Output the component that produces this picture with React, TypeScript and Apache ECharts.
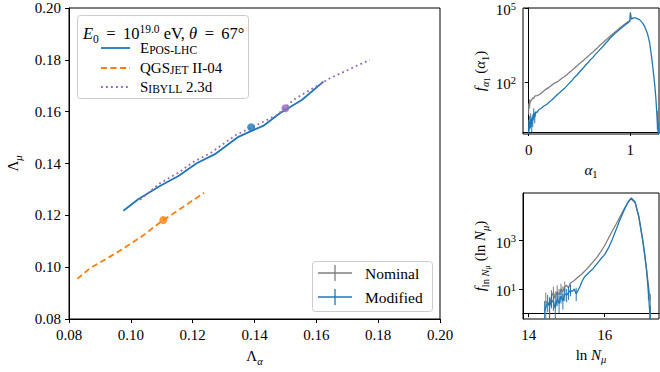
import React, { useEffect, useRef } from 'react';
import * as echarts from 'echarts';

// ---------- main panel data ----------
const eposX = [0.0976, 0.1024, 0.1094, 0.1154, 0.1213, 0.1272, 0.1348, 0.1385, 0.1428, 0.1482, 0.1553, 0.1623];
const eposY = [0.1218, 0.1262, 0.1313, 0.1352, 0.1401, 0.1436, 0.1503, 0.1523, 0.1545, 0.1594, 0.1645, 0.1716];
const qgsX = [0.0827, 0.0868, 0.096, 0.1035, 0.1105, 0.117, 0.1237];
const qgsY = [0.0955, 0.0996, 0.106, 0.1118, 0.1182, 0.1233, 0.1287];
const sibX = [0.103, 0.1094, 0.115, 0.1205, 0.1256, 0.134, 0.1418, 0.1472, 0.150, 0.1525, 0.1644, 0.1773];
const sibY = [0.126, 0.1324, 0.1362, 0.1408, 0.1439, 0.151, 0.1555, 0.1587, 0.1615, 0.1645, 0.1729, 0.180];
const markEpos = [0.1389, 0.154];
const markQgs = [0.1105, 0.1182];
const markSib = [0.150, 0.1613];
const mainTicks = [0.08, 0.10, 0.12, 0.14, 0.16, 0.18, 0.20];

// ---------- alpha_1 histogram (log10 f) ----------
const a1NomX = [0.0, 0.01, 0.02, 0.03, 0.04, 0.05, 0.06, 0.08, 0.10, 0.12, 0.15, 0.18, 0.20, 0.23, 0.25, 0.28, 0.30, 0.33, 0.35, 0.38, 0.40, 0.43, 0.45, 0.48, 0.50, 0.53, 0.55, 0.58, 0.60, 0.63, 0.65, 0.68, 0.70, 0.73, 0.75, 0.78, 0.80, 0.83, 0.85, 0.88, 0.90, 0.93, 0.95, 0.98, 1.00];
const a1NomLog = [0.95, 1.15, 1.25, 1.3, 1.38, 1.35, 1.45, 1.47, 1.5, 1.55, 1.66, 1.75, 1.8, 1.9, 1.96, 2.02, 2.08, 2.18, 2.23, 2.33, 2.4, 2.5, 2.57, 2.68, 2.76, 2.85, 2.93, 3.03, 3.12, 3.22, 3.3, 3.41, 3.5, 3.6, 3.68, 3.78, 3.86, 3.96, 4.03, 4.13, 4.2, 4.3, 4.36, 4.45, 4.5];
const a1ModX = [0.0, 0.01, 0.015, 0.02, 0.03, 0.035, 0.04, 0.05, 0.06, 0.07, 0.08, 0.10, 0.12, 0.15, 0.18, 0.20, 0.23, 0.25, 0.28, 0.30, 0.33, 0.35, 0.38, 0.40, 0.43, 0.45, 0.48, 0.50, 0.53, 0.55, 0.58, 0.60, 0.63, 0.65, 0.68, 0.70, 0.73, 0.75, 0.78, 0.80, 0.83, 0.85, 0.88, 0.90, 0.93, 0.95, 0.98, 0.995, 1.0, 1.01, 1.03, 1.05, 1.07, 1.09, 1.12, 1.14, 1.17, 1.19, 1.21, 1.22, 1.24, 1.25, 1.265, 1.275];
const a1ModLog = [0.0, 0.4, 0.15, 0.5, 0.3, 0.6, 0.45, 0.75, 0.6, 0.82, 0.78, 0.9, 0.95, 1.05, 1.12, 1.2, 1.3, 1.38, 1.5, 1.57, 1.68, 1.75, 1.88, 1.97, 2.1, 2.2, 2.32, 2.42, 2.55, 2.65, 2.78, 2.88, 3.0, 3.1, 3.23, 3.32, 3.45, 3.55, 3.68, 3.78, 3.9, 3.98, 4.08, 4.15, 4.25, 4.32, 4.42, 4.47, 4.82, 4.55, 4.6, 4.6, 4.56, 4.53, 4.4, 4.26, 3.95, 3.6, 3.0, 2.65, 1.9, 1.43, 0.5, -0.1];
const a1ModErr = [[0.0, -0.2, 0.5], [0.01, 0.1, 0.65], [0.02, 0.2, 0.75], [0.03, 0.0, 0.55], [0.04, 0.2, 0.7], [0.05, 0.5, 0.95], [0.06, 0.35, 0.8], [1.265, 0.1, 0.85], [1.275, -0.3, 0.4]];
const a1NomErr = [[0.0, 0.7, 1.15], [0.01, 0.95, 1.32]];

// ---------- ln N_mu histogram (log10 f) ----------
const lnNomX = [14.45, 14.55, 14.6, 14.65, 14.7, 14.75, 14.8, 14.85, 14.9, 14.95, 15.0, 15.05, 15.1, 15.2, 15.3, 15.4, 15.5, 15.6, 15.7, 15.8, 15.9, 16.0, 16.1, 16.2, 16.3, 16.4, 16.5, 16.6, 16.68, 16.8, 16.9, 17.0, 17.1, 17.2];
const lnNomLog = [0.5, 0.3, 0.7, 0.85, 0.6, 0.9, 0.75, 1.0, 0.9, 1.1, 1.15, 1.05, 1.25, 1.35, 1.5, 1.62, 1.78, 1.95, 2.13, 2.32, 2.55, 2.8, 3.1, 3.4, 3.68, 3.98, 4.27, 4.55, 4.74, 4.58, 3.95, 3.0, 1.85, 0.5];
const lnModX = [14.42, 14.5, 14.55, 14.6, 14.65, 14.7, 14.75, 14.8, 14.85, 14.9, 14.95, 15.0, 15.05, 15.1, 15.15, 15.2, 15.25, 15.3, 15.35, 15.4, 15.45, 15.5, 15.6, 15.7, 15.8, 15.9, 16.0, 16.1, 16.2, 16.3, 16.4, 16.5, 16.6, 16.7, 16.8, 16.9, 17.0, 17.05, 17.1, 17.15, 17.2];
const lnModLog = [0.1, 0.45, 0.3, 0.55, 0.45, 0.2, 0.6, 0.4, 0.7, 0.5, 0.8, 0.75, 0.85, 0.95, 0.9, 1.0, 0.8, 0.95, 1.1, 1.3, 1.45, 1.55, 1.7, 1.85, 2.05, 2.25, 2.42, 2.7, 3.05, 3.45, 3.85, 4.22, 4.55, 4.76, 4.6, 4.0, 3.05, 2.5, 1.8, 0.9, -0.3];
const lnNomErr = [[14.45, -0.3, 0.85], [14.55, -0.3, 0.65], [14.6, 0.4, 0.95], [14.65, 0.55, 1.1], [14.7, 0.25, 0.9], [14.75, 0.6, 1.15], [14.8, 0.45, 1.0], [14.85, 0.75, 1.22], [14.9, 0.6, 1.12], [14.95, 0.85, 1.3], [17.2, -0.3, 0.8]];
const lnModErr = [[14.42, -0.3, 0.5], [14.5, 0.05, 0.75], [14.55, -0.3, 0.65], [14.6, 0.2, 0.8], [14.65, 0.1, 0.72], [14.7, -0.3, 0.5], [14.75, 0.3, 0.85], [14.8, 0.0, 0.7], [14.85, 0.4, 0.95], [14.9, 0.15, 0.8], [14.95, 0.5, 1.05], [15.0, 0.45, 1.0], [15.05, 0.55, 1.1], [15.1, 0.7, 1.18], [15.25, 0.5, 1.05], [17.15, 0.55, 1.2], [17.2, -0.3, 0.3]];

const BLUE = '#1f77b4';
const ORANGE = '#ff7f0e';
const PURPLE = '#9467bd';
const GRAY = '#7f7f7f';
const F = "'Liberation Serif', 'DejaVu Serif', serif";

const rs = (fs: number, o: any = {}) => ({ fontFamily: F, fontSize: fs, lineHeight: fs, verticalAlign: 'top', color: '#000', ...o });
const rich: any = {
  n: rs(15, { padding: [2, 0, 0, 0] }),
  i: rs(15, { fontStyle: 'italic', padding: [2, 0, 0, 0] }),
  s: rs(10.5, { padding: [9, 0, 0, 0] }),
  si: rs(10.5, { fontStyle: 'italic', padding: [9, 0, 0, 0] }),
  ss: rs(8, { padding: [13, 0, 0, 0] }),
  p: rs(10.5),
  c: rs(15),
  k: rs(11.5, { padding: [3, 0, 0, 0] }),
  b: rs(15, { padding: [2, 0, 0, 0] }),
  tn: rs(16.5, { padding: [2, 0, 0, 0] }),
  ti: rs(16.5, { fontStyle: 'italic', padding: [2, 0, 0, 0] }),
  ts: rs(11.5, { padding: [10, 0, 0, 0] }),
  tp: rs(11.5),
};

const zip = (xs: number[], ys: number[]) => xs.map((x, i) => [x, ys[i]]);

function errSeries(data: number[][], idx: number, color: string, z: number) {
  return {
    type: 'custom', xAxisIndex: idx, yAxisIndex: idx, clip: true, silent: true, z,
    encode: { x: 0, y: [1, 2] },
    renderItem: (_p: any, api: any) => {
      const x = api.value(0), lo = api.value(1), hi = api.value(2);
      const a = api.coord([x, lo]);
      const b = api.coord([x, hi]);
      return { type: 'line', shape: { x1: a[0], y1: a[1], x2: b[0], y2: b[1] }, style: { stroke: color, lineWidth: 1 } };
    },
    data,
  };
}

const tickStyle = { show: true, inside: false, length: 4, lineStyle: { color: '#000', width: 1 } };
const lineAx = { show: true, lineStyle: { color: '#000', width: 1 } };
const lbl = (o: any = {}) => ({ fontFamily: F, fontSize: 15, color: '#000', ...o });

export default function App() {
  const ref = useRef<HTMLDivElement>(null);
  useEffect(() => {
    if (!ref.current) return;
    const chart = echarts.init(ref.current, undefined, { renderer: 'svg' });
    const gridBase = { show: true, borderColor: '#000', borderWidth: 1, backgroundColor: 'transparent', containLabel: false, outerBoundsMode: 'none' };
    const option: any = {
      animation: false,
      backgroundColor: '#fff',
      grid: [
        { ...gridBase, left: 69, top: 8, width: 371, height: 311 },
        { ...gridBase, left: 523, top: 8, width: 136, height: 126 },
        { ...gridBase, left: 523, top: 193, width: 136, height: 126 },
      ],
      xAxis: [
        {
          type: 'value', gridIndex: 0, min: 0.08, max: 0.2, interval: 0.02,
          axisLine: lineAx, axisTick: tickStyle, splitLine: { show: false },
          axisLabel: lbl({ margin: 8, formatter: (v: number) => v.toFixed(2), customValues: mainTicks }),
          name: '{n|Λ}{si|α}', nameLocation: 'middle', nameGap: 26, nameTextStyle: { rich },
        },
        {
          type: 'value', gridIndex: 1, min: -0.056, max: 1.282,
          axisLine: lineAx, axisTick: { ...tickStyle, customValues: [0, 1] }, splitLine: { show: false },
          axisLabel: lbl({ margin: 8, customValues: [0, 1], formatter: (v: number) => String(v) }),
          name: '{i|α}{s|1}', nameLocation: 'middle', nameGap: 26, nameTextStyle: { rich },
        },
        {
          type: 'value', gridIndex: 2, min: 13.85, max: 17.43,
          axisLine: lineAx, axisTick: { ...tickStyle, customValues: [14, 16] }, splitLine: { show: false },
          axisLabel: lbl({ margin: 8, customValues: [14, 16], formatter: (v: number) => String(v) }),
          name: '{n|ln }{i|N}{si|μ}', nameLocation: 'middle', nameGap: 26, nameTextStyle: { rich },
        },
      ],
      yAxis: [
        {
          type: 'value', gridIndex: 0, min: 0.08, max: 0.2, interval: 0.02,
          axisLine: lineAx, axisTick: tickStyle, splitLine: { show: false },
          axisLabel: lbl({ margin: 8, formatter: (v: number) => v.toFixed(2), customValues: mainTicks }),
          name: '{n|Λ}{si|μ}', nameLocation: 'middle', nameGap: 44, nameRotate: 90, nameTextStyle: { rich },
        },
        {
          type: 'value', gridIndex: 1, min: -0.08, max: 5,
          axisLine: lineAx, axisTick: { ...tickStyle, customValues: [2, 5] }, splitLine: { show: false },
          axisLabel: lbl({ margin: 7, customValues: [2, 5], formatter: (v: number) => `{b|10}{p|${v}}`, rich }),
          name: '{i|f}{si|α}{ss|1}{n| (}{i|α}{s|1}{n|)}', nameLocation: 'middle', nameGap: 34, nameRotate: 90, nameTextStyle: { rich },
        },
        {
          type: 'value', gridIndex: 2, min: -0.24, max: 4.97,
          axisLine: lineAx, axisTick: { ...tickStyle, customValues: [1, 3] }, splitLine: { show: false },
          axisLabel: lbl({ margin: 7, customValues: [1, 3], formatter: (v: number) => `{b|10}{p|${v}}`, rich }),
          name: '{i|f}{s|ln }{si|N}{ss|μ}{n| (ln }{i|N}{si|μ}{n|)}', nameLocation: 'middle', nameGap: 34, nameRotate: 90, nameTextStyle: { rich },
        },
      ],
      series: [
        { type: 'line', xAxisIndex: 0, yAxisIndex: 0, data: zip(eposX, eposY), showSymbol: false, lineStyle: { color: BLUE, width: 1.8 }, z: 3 },
        { type: 'line', xAxisIndex: 0, yAxisIndex: 0, data: zip(qgsX, qgsY), showSymbol: false, lineStyle: { color: ORANGE, width: 1.8, type: [6, 3.5] }, z: 3 },
        { type: 'line', xAxisIndex: 0, yAxisIndex: 0, data: zip(sibX, sibY), showSymbol: false, lineStyle: { color: PURPLE, width: 1.8, type: [1.8, 3.2] }, z: 3 },
        { type: 'scatter', xAxisIndex: 0, yAxisIndex: 0, data: [markEpos], symbolSize: 8, itemStyle: { color: BLUE }, z: 4 },
        { type: 'scatter', xAxisIndex: 0, yAxisIndex: 0, data: [markQgs], symbolSize: 8, itemStyle: { color: ORANGE }, z: 4 },
        { type: 'scatter', xAxisIndex: 0, yAxisIndex: 0, data: [markSib], symbolSize: 8, itemStyle: { color: PURPLE }, z: 4 },

        errSeries(a1NomErr, 1, GRAY, 2),
        { type: 'line', xAxisIndex: 1, yAxisIndex: 1, data: zip(a1NomX, a1NomLog), showSymbol: false, lineStyle: { color: GRAY, width: 1.3 }, z: 2 },
        errSeries(a1ModErr, 1, BLUE, 3),
        { type: 'line', xAxisIndex: 1, yAxisIndex: 1, data: zip(a1ModX, a1ModLog), showSymbol: false, lineStyle: { color: BLUE, width: 1.3 }, z: 3 },

        errSeries(lnNomErr, 2, GRAY, 2),
        { type: 'line', xAxisIndex: 2, yAxisIndex: 2, data: zip(lnNomX, lnNomLog), showSymbol: false, lineStyle: { color: GRAY, width: 1.3 }, z: 2 },
        errSeries(lnModErr, 2, BLUE, 3),
        { type: 'line', xAxisIndex: 2, yAxisIndex: 2, data: zip(lnModX, lnModLog), showSymbol: false, lineStyle: { color: BLUE, width: 1.3 }, z: 3 },
      ],
      graphic: [
        // upper-left legend
        { type: 'rect', shape: { x: 77.5, y: 15.5, width: 171, height: 83, r: 3 }, style: { fill: 'rgba(255,255,255,0.8)', stroke: '#cccccc', lineWidth: 1 }, z: 10 },
        { type: 'text', x: 83, y: 31, z: 11, style: { text: '{ti|E}{ts|0}{tn| \u2009=\u2009 10}{tp|19.0}{tn| eV, }{ti|θ}{tn| \u2009=\u2009 67°}', rich, verticalAlign: 'middle', align: 'left' } },
        { type: 'line', shape: { x1: 101, y1: 48, x2: 130, y2: 48 }, style: { stroke: BLUE, lineWidth: 1.8 }, z: 11 },
        { type: 'line', shape: { x1: 101, y1: 68, x2: 130, y2: 68 }, style: { stroke: ORANGE, lineWidth: 1.8, lineDash: [6, 3.5] }, z: 11 },
        { type: 'line', shape: { x1: 101, y1: 87, x2: 130, y2: 87 }, style: { stroke: PURPLE, lineWidth: 1.8, lineDash: [1.8, 3.2] }, z: 11 },
        { type: 'text', x: 140, y: 48, z: 11, style: { text: '{c|E}{k|POS-LHC}', rich, verticalAlign: 'middle' } },
        { type: 'text', x: 140, y: 68, z: 11, style: { text: '{c|QGS}{k|JET}{c| II-04}', rich, verticalAlign: 'middle' } },
        { type: 'text', x: 140, y: 87, z: 11, style: { text: '{c|S}{k|IBYLL}{c| 2.3d}', rich, verticalAlign: 'middle' } },
        // lower-right legend
        { type: 'rect', shape: { x: 312.5, y: 261.5, width: 120, height: 50, r: 3 }, style: { fill: 'rgba(255,255,255,0.8)', stroke: '#cccccc', lineWidth: 1 }, z: 10 },
        { type: 'line', shape: { x1: 318, y1: 273, x2: 352, y2: 273 }, style: { stroke: GRAY, lineWidth: 1.3 }, z: 11 },
        { type: 'line', shape: { x1: 335, y1: 265, x2: 335, y2: 281 }, style: { stroke: GRAY, lineWidth: 1.3 }, z: 11 },
        { type: 'line', shape: { x1: 318, y1: 297, x2: 352, y2: 297 }, style: { stroke: BLUE, lineWidth: 1.3 }, z: 11 },
        { type: 'line', shape: { x1: 335, y1: 289, x2: 335, y2: 305 }, style: { stroke: BLUE, lineWidth: 1.3 }, z: 11 },
        { type: 'text', x: 365, y: 273, z: 11, style: { text: 'Nominal', fontFamily: F, fontSize: 15.5, fill: '#000', verticalAlign: 'middle' } },
        { type: 'text', x: 365, y: 297, z: 11, style: { text: 'Modified', fontFamily: F, fontSize: 15.5, fill: '#000', verticalAlign: 'middle' } },
      ],
    };
    chart.setOption(option);
    return () => chart.dispose();
  }, []);
  return <div ref={ref} style={{ position: 'fixed', left: 0, top: 0, width: 660, height: 372 }} />;
}
